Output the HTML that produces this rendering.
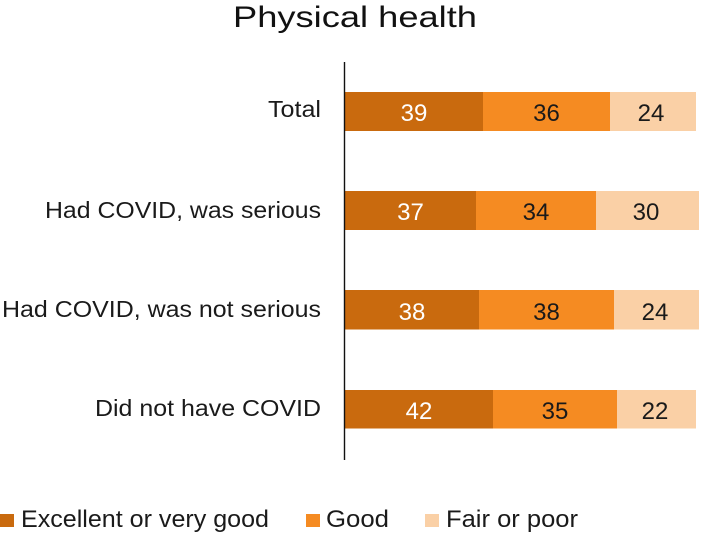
<!DOCTYPE html>
<html>
<head>
<meta charset="utf-8">
<style>
  html, body { margin: 0; padding: 0; background: #ffffff; }
  body { width: 710px; height: 557px; overflow: hidden; }
  svg { display: block; }
  text { font-family: "Liberation Sans", "DejaVu Sans", sans-serif; }
</style>
</head>
<body>
<svg width="710" height="557" viewBox="0 0 710 557" xmlns="http://www.w3.org/2000/svg">
  <rect x="0" y="0" width="710" height="557" fill="#ffffff"/>

  <!-- Title -->
  <text x="233" y="27" font-size="30" fill="#111" textLength="244" lengthAdjust="spacingAndGlyphs">Physical health</text>

  <!-- Category labels -->
  <text x="268" y="117" font-size="23.5" fill="#1a1a1a" textLength="53" lengthAdjust="spacingAndGlyphs">Total</text>
  <text x="45" y="218" font-size="23.5" fill="#1a1a1a" textLength="276" lengthAdjust="spacingAndGlyphs">Had COVID, was serious</text>
  <text x="2" y="317" font-size="23.5" fill="#1a1a1a" textLength="319" lengthAdjust="spacingAndGlyphs">Had COVID, was not serious</text>
  <text x="95" y="416" font-size="23.5" fill="#1a1a1a" textLength="226" lengthAdjust="spacingAndGlyphs">Did not have COVID</text>

  <!-- Bars -->
  <!-- Bar 1: Total -->
  <rect x="345" y="92" width="138" height="39" fill="#C96A0E"/>
  <rect x="483" y="92" width="127" height="39" fill="#F58B22"/>
  <rect x="610" y="92" width="86" height="39" fill="#FAD0A6"/>
  <!-- Bar 2 -->
  <rect x="345" y="191" width="131" height="39" fill="#C96A0E"/>
  <rect x="476" y="191" width="120" height="39" fill="#F58B22"/>
  <rect x="596" y="191" width="103" height="39" fill="#FAD0A6"/>
  <!-- Bar 3 -->
  <rect x="345" y="290" width="134" height="39.5" fill="#C96A0E"/>
  <rect x="479" y="290" width="135" height="39.5" fill="#F58B22"/>
  <rect x="614" y="290" width="85" height="39.5" fill="#FAD0A6"/>
  <!-- Bar 4 -->
  <rect x="345" y="390" width="148" height="38.5" fill="#C96A0E"/>
  <rect x="493" y="390" width="124" height="38.5" fill="#F58B22"/>
  <rect x="617" y="390" width="79" height="38.5" fill="#FAD0A6"/>

  <!-- Axis line -->
  <line x1="344.5" y1="62" x2="344.5" y2="460" stroke="#111" stroke-width="1.4"/>

  <!-- Value labels -->
  <g font-size="24" text-anchor="middle">
    <text x="414" y="121" fill="#ffffff">39</text>
    <text x="546.5" y="121" fill="#1a1a1a">36</text>
    <text x="651" y="121" fill="#1a1a1a">24</text>

    <text x="410.5" y="220" fill="#ffffff">37</text>
    <text x="536" y="220" fill="#1a1a1a">34</text>
    <text x="646" y="220" fill="#1a1a1a">30</text>

    <text x="412" y="320" fill="#ffffff">38</text>
    <text x="546.5" y="320" fill="#1a1a1a">38</text>
    <text x="655" y="320" fill="#1a1a1a">24</text>

    <text x="419" y="419" fill="#ffffff">42</text>
    <text x="555" y="419" fill="#1a1a1a">35</text>
    <text x="655" y="419" fill="#1a1a1a">22</text>
  </g>

  <!-- Legend -->
  <rect x="0" y="514" width="14" height="13" fill="#C96A0E"/>
  <text x="21" y="527" font-size="24" fill="#1a1a1a" textLength="248" lengthAdjust="spacingAndGlyphs">Excellent or very good</text>
  <rect x="306" y="514" width="14" height="13" fill="#F58B22"/>
  <text x="326" y="527" font-size="24" fill="#1a1a1a" textLength="63" lengthAdjust="spacingAndGlyphs">Good</text>
  <rect x="425" y="514" width="14" height="13" fill="#FAD0A6"/>
  <text x="446" y="527" font-size="24" fill="#1a1a1a" textLength="132" lengthAdjust="spacingAndGlyphs">Fair or poor</text>
</svg>
</body>
</html>
